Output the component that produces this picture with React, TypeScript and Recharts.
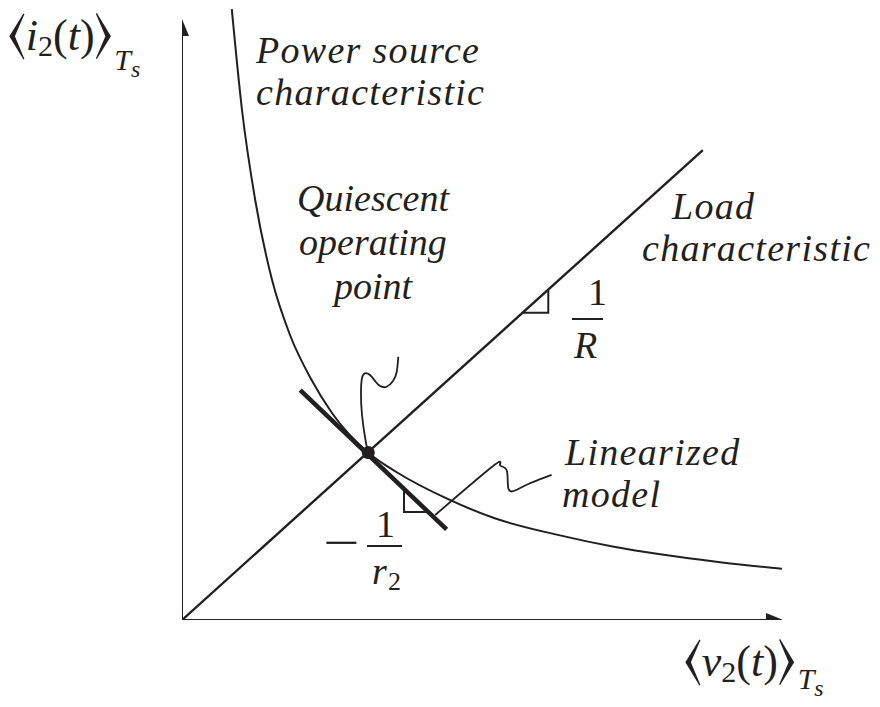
import { ComposedChart, Line, Scatter, XAxis, YAxis } from "recharts";

// source characteristic
const powerV = [8.3, 10, 12.2, 15, 18, 21.6, 25, 31, 36, 44, 52, 63, 72, 80, 90, 100.3];
const powerI = [101.8, 85, 70, 56.7, 47.5, 40, 34.5, 27.9, 24.5, 20.3, 17, 14.1, 12.2, 10.9, 9.6, 8.5];

const loadV = [0, 86.8];
const loadI = [0, 78.3];

const tangentV = [19.7, 44.1];
const tangentI = [38.3, 15.1];

const slopeRV = [56.8, 61.05, 61.05];
const slopeRI = [51.2, 51.2, 55.0];

const slopeRoV = [37, 37, 41];
const slopeRoI = [21.8, 18, 18];

const quiescentLeadV = [36.05, 35.78, 35.17, 34.12, 33, 32.17, 31.33, 30.5, 30, 29.83, 30, 30.58, 30.83];
const quiescentLeadI = [43.88, 41.33, 39.83, 38.88, 39, 39.83, 40.83, 41.12, 40.33, 38, 34.17, 30, 28.83];

const linearLeadV = [61.6, 58, 55.8, 54.4, 54.1, 53, 51.9, 42.2];
const linearLeadI = [24.2, 22.8, 21.7, 21.9, 25, 25.8, 25.7, 17.5];

const quiescent = [{ x: 31.05, y: 27.9 }];

const zip = (xs: number[], ys: number[]) => xs.map((x, i) => ({ x, y: ys[i] }));

const ink = "#231f20";
const serif =
  '"Liberation Serif", "Times New Roman", Times, Tinos, "Nimbus Roman", FreeSerif, "DejaVu Serif", "Noto Serif", serif';

const ArrowRight = (p: any) => (
  <polygon points={`${p.cx},${p.cy} ${p.cx - 17},${p.cy - 7} ${p.cx - 17},${p.cy + 7}`} fill={ink} />
);
const ArrowUp = (p: any) => (
  <polygon points={`${p.cx},${p.cy} ${p.cx - 7},${p.cy + 17} ${p.cx + 7},${p.cy + 17}`} fill={ink} />
);
const Dot = (p: any) => <circle cx={p.cx} cy={p.cy} r={6.5} fill={ink} />;

const txt = (left: number, top: number, extra: any = {}) => ({
  position: "absolute" as const,
  left,
  top,
  fontFamily: serif,
  fontStyle: "italic",
  fontSize: 38,
  lineHeight: "41px",
  letterSpacing: 1.3,
  color: ink,
  whiteSpace: "nowrap" as const,
  ...extra,
});

const up = { fontStyle: "normal" };
const bracket = { fontStyle: "normal", fontSize: 54, fontWeight: 200, letterSpacing: 0 };

function AxisLabel({ name, left, top, drop }: { name: string; left: number; top: number; drop: number }) {
  return (
    <div style={txt(left, top, { fontSize: 44, lineHeight: "56px", letterSpacing: 0 })}>
      <span style={bracket}>⟨</span>
      {name}
      <span style={{ ...up, fontSize: 30, verticalAlign: "-6px" }}>2</span>
      <span style={up}>(</span>t<span style={up}>)</span>
      <span style={bracket}>⟩</span>
      <span style={{ fontSize: 30, verticalAlign: `-${drop}px`, marginLeft: 2 }}>
        T<span style={{ fontSize: 24, verticalAlign: "-7px" }}>s</span>
      </span>
    </div>
  );
}

export default function App() {
  return (
    <div style={{ position: "absolute", left: 0, top: 0, width: 880, height: 707, background: "#fff", overflow: "hidden" }}>
      <ComposedChart width={880} height={707} margin={{ top: 8, right: 98, bottom: 87, left: 182 }}>
        <XAxis type="number" dataKey="x" domain={[0, 100]} hide allowDataOverflow />
        <YAxis type="number" dataKey="y" domain={[0, 102]} hide allowDataOverflow />
        <Line data={zip([0, 99], [0, 0])} dataKey="y" stroke={ink} strokeWidth={2} dot={false} isAnimationActive={false} />
        <Line data={zip([0, 0], [0, 99])} dataKey="y" stroke={ink} strokeWidth={2} dot={false} isAnimationActive={false} />
        <Scatter data={[{ x: 100.17, y: 0 }]} shape={ArrowRight} isAnimationActive={false} />
        <Scatter data={[{ x: 0, y: 100.17 }]} shape={ArrowUp} isAnimationActive={false} />
        <Line data={zip(loadV, loadI)} dataKey="y" stroke={ink} strokeWidth={2.4} dot={false} isAnimationActive={false} />
        <Line data={zip(powerV, powerI)} dataKey="y" type="monotone" stroke={ink} strokeWidth={2} dot={false} isAnimationActive={false} />
        <Line data={zip(tangentV, tangentI)} dataKey="y" stroke={ink} strokeWidth={4.5} dot={false} isAnimationActive={false} />
        <Line data={zip(slopeRV, slopeRI)} dataKey="y" stroke={ink} strokeWidth={2} dot={false} isAnimationActive={false} />
        <Line data={zip(slopeRoV, slopeRoI)} dataKey="y" stroke={ink} strokeWidth={2} dot={false} isAnimationActive={false} />
        <Line data={zip(quiescentLeadV, quiescentLeadI)} dataKey="y" type="natural" stroke={ink} strokeWidth={1.8} dot={false} isAnimationActive={false} />
        <Line data={zip(linearLeadV, linearLeadI)} dataKey="y" type="natural" stroke={ink} strokeWidth={1.8} dot={false} isAnimationActive={false} />
        <Scatter data={quiescent} shape={Dot} isAnimationActive={false} />
      </ComposedChart>

      <div style={txt(256, 30)}>Power source</div>
      <div style={txt(256, 72)}>characteristic</div>

      <div style={txt(672, 186)}>Load</div>
      <div style={txt(642, 228)}>characteristic</div>

      <div style={txt(373, 176, { transform: "translateX(-50%)", textAlign: "center", lineHeight: "44px", letterSpacing: 0 })}>
        Quiescent<br />operating<br />point
      </div>

      <div style={txt(565, 432)}>Linearized</div>
      <div style={txt(562, 474)}>model</div>

      {/* 1/R */}
      <div style={txt(588, 272, up)}>1</div>
      <div style={{ position: "absolute", left: 572, top: 318, width: 31, height: 2, background: ink }} />
      <div style={txt(574, 325)}>R</div>

      {/* -1/r2 */}
      <div style={txt(329, 522, { ...up, fontSize: 46, transform: "scaleX(1.4)" })}>−</div>
      <div style={txt(376, 504, up)}>1</div>
      <div style={{ position: "absolute", left: 367, top: 545, width: 35, height: 2, background: ink }} />
      <div style={txt(372, 551)}>
        r<span style={{ ...up, fontSize: 26, verticalAlign: "-6px" }}>2</span>
      </div>

      <AxisLabel name="i" left={8} top={4} drop={20} />
      <AxisLabel name="v" left={684} top={630} drop={13} />
    </div>
  );
}
